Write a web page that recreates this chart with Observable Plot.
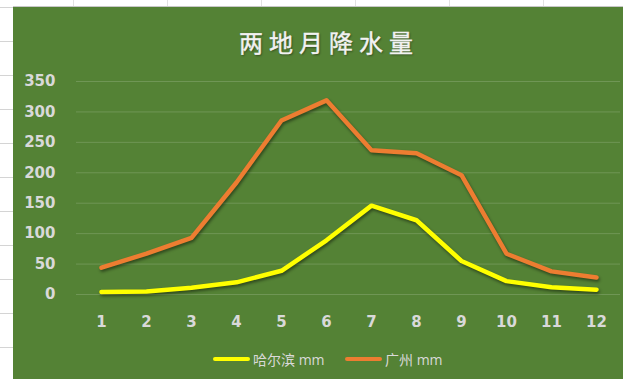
<!DOCTYPE html>
<html>
<head>
<meta charset="utf-8">
<script src="https://cdn.jsdelivr.net/npm/d3@7"></script>
<script src="https://cdn.jsdelivr.net/npm/@observablehq/plot@0.6"></script>
<style>
  html, body { margin: 0; padding: 0; background: #fff; }
  #sheet {
    position: relative; width: 623px; height: 379px; overflow: hidden;
    background-color: #fff;
    background-image:
      linear-gradient(to bottom, #d4d4d4 1px, transparent 1px),
      linear-gradient(to right, #e2e2e2 1px, transparent 1px);
    background-size: 100% 34px, 94px 100%;
    background-position: 0 7px, 73px 0;
  }
  #chart {
    position: absolute; left: 13px; top: 6px; width: 610px; height: 373px;
    background: #548235; overflow: hidden;
    border-top: 1px solid #c8c8c8;
  }
  #title {
    position: absolute; left: 0; top: 23px; width: 632px;
    text-align: center; font: 24px/24px "Noto Sans CJK SC", sans-serif;
    letter-spacing: 6px; color: #f2f2f2;
    -webkit-text-stroke: 0.4px #f2f2f2;
    text-shadow: 1px 1px 2px rgba(0,0,0,0.45);
  }
  #plot { position: absolute; left: 0; top: 53px; }
  #plot g[aria-label="line"] path { filter: drop-shadow(1px 2px 1.5px rgba(0,0,0,0.45)); }
  .key { position: absolute; top: 343px; height: 18px; display: flex; align-items: center;
         font: 14px "Open Sans", "Noto Sans CJK SC", sans-serif; color: #d9d9d9; }
  .key i { display: inline-block; width: 37px; height: 4px; border-radius: 2px; margin-right: 3px; }
</style>
</head>
<body>
<div id="sheet">
  <div id="chart">
    <div id="title"></div>
    <div id="plot"></div>
    <div id="legend"></div>
  </div>
</div>
<script>
// Monthly precipitation (mm) for two cities
const months = [1, 2, 3, 4, 5, 6, 7, 8, 9, 10, 11, 12];
const harbin = [4, 5, 11, 20, 39, 89, 146, 122, 55, 22, 12, 8];
const guangzhou = [44, 67, 93, 184, 286, 319, 237, 232, 196, 67, 38, 28];
const seriesNames = ["哈尔滨 mm", "广州 mm"];
const seriesColors = ["#ffff00", "#ed7d31"];
const yTicks = [0, 50, 100, 150, 200, 250, 300, 350];
const titleText = "两地月降水量";

document.getElementById("title").textContent = titleText;

const rows = (values) => months.map((m, i) => ({ month: m, value: values[i] }));

const chart = Plot.plot({
  width: 610,
  height: 280,
  marginLeft: 63,
  marginRight: 3,
  marginTop: 21,
  marginBottom: 46,
  style: {
    background: "transparent",
    color: "#d9d9d9",
    fontFamily: "'DejaVu Sans', sans-serif",
    fontSize: "15px",
    fontWeight: "bold",
    overflow: "visible"
  },
  x: { type: "point", domain: months, padding: 0.5, label: null },
  y: { domain: [0, 350], label: null },
  marks: [
    Plot.gridY(yTicks, { stroke: "#ffffff", strokeOpacity: 0.16, strokeWidth: 1 }),
    Plot.axisY(yTicks, { tickSize: 0, tickPadding: 21, label: null }),
    Plot.axisX({ tickSize: 0, tickPadding: 22, label: null }),
    Plot.lineY(rows(harbin), { x: "month", y: "value", stroke: seriesColors[0], strokeWidth: 4.5, strokeLinejoin: "round", strokeLinecap: "round" }),
    Plot.lineY(rows(guangzhou), { x: "month", y: "value", stroke: seriesColors[1], strokeWidth: 4.5, strokeLinejoin: "round", strokeLinecap: "round" })
  ]
});
document.getElementById("plot").append(chart);

// Legend with line swatches below the plot
const legend = document.getElementById("legend");
const keyLeft = [200, 332];
seriesNames.forEach((name, i) => {
  const item = document.createElement("div");
  item.className = "key";
  item.style.left = keyLeft[i] + "px";
  const sw = document.createElement("i");
  sw.style.background = seriesColors[i];
  item.append(sw, document.createTextNode(name));
  legend.append(item);
});
</script>
</body>
</html>
